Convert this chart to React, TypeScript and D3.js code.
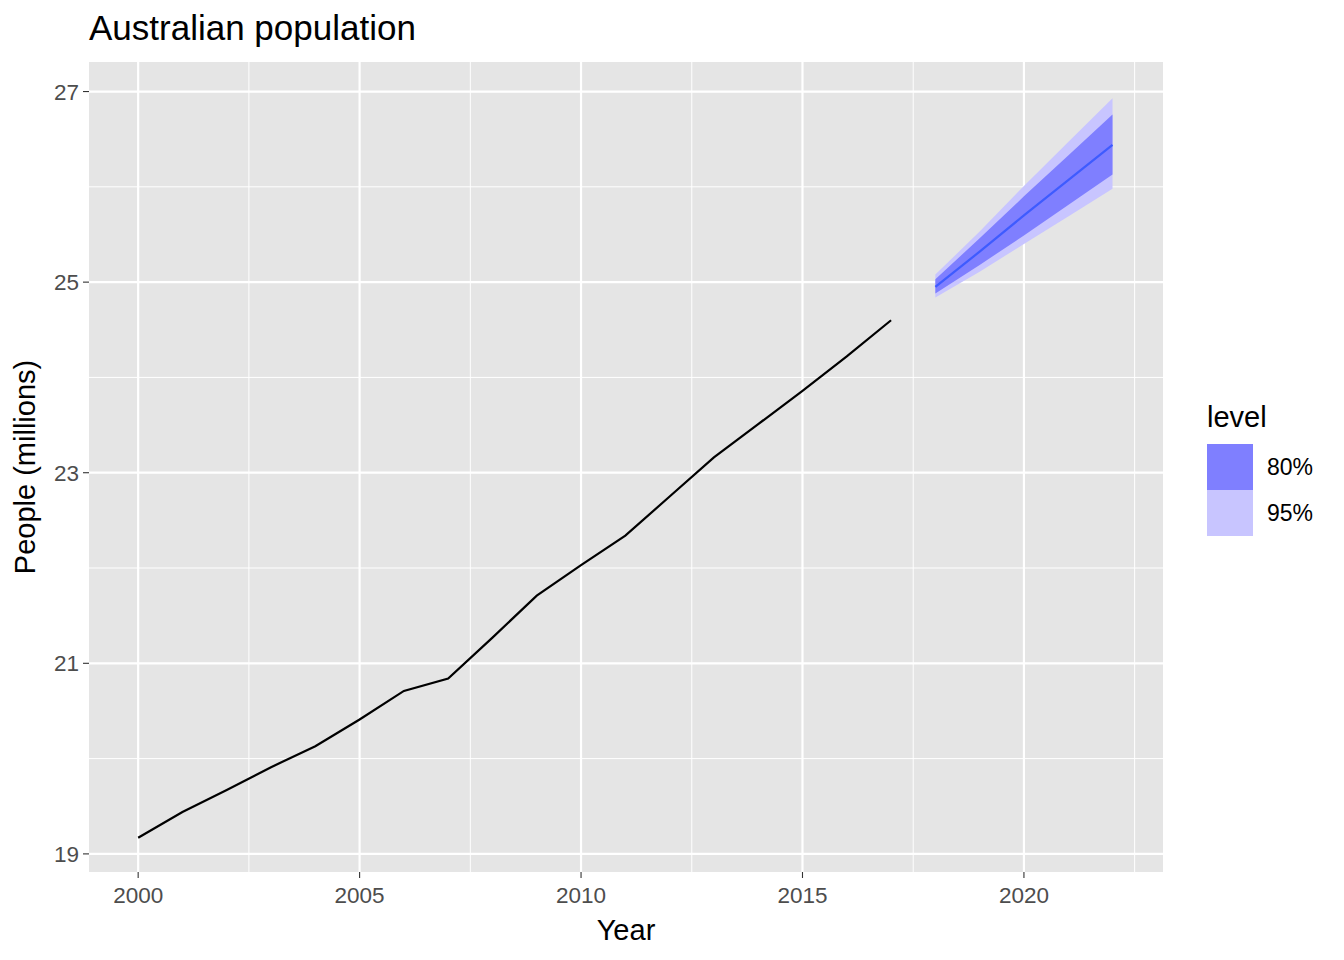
import * as React from 'react';
import * as d3 from 'd3';

const years = [2000, 2001, 2002, 2003, 2004, 2005, 2006, 2007, 2008, 2009, 2010, 2011, 2012, 2013, 2014, 2015, 2016, 2017];
const population = [19.17, 19.44, 19.67, 19.91, 20.13, 20.41, 20.71, 20.84, 21.27, 21.71, 22.03, 22.34, 22.75, 23.16, 23.51, 23.86, 24.22, 24.60];

const fcYears = [2018, 2019, 2020, 2021, 2022];
const fcMean = [24.95, 25.32, 25.70, 26.07, 26.44];
const lo80 = [24.88, 25.18, 25.49, 25.81, 26.13];
const hi80 = [25.03, 25.46, 25.90, 26.33, 26.76];
const lo95 = [24.84, 25.11, 25.40, 25.69, 25.98];
const hi95 = [25.08, 25.53, 26.01, 26.47, 26.93];

const xTicks = [2000, 2005, 2010, 2015, 2020];
const xMinor = [2002.5, 2007.5, 2012.5, 2017.5, 2022.5];
const yTicks = [19, 21, 23, 25, 27];
const yMinor = [20, 22, 24, 26];
const legendLevels = ['80%', '95%'];
const legendColors = ['#7f7fff', '#c8c5ff'];

const font = '"Liberation Sans", Arial, sans-serif';

export default function App() {
  const left = 89, right = 1163, top = 62, bottom = 872;
  const x = d3.scaleLinear().domain([1998.89, 2023.14]).range([left, right]);
  const y = d3.scaleLinear().domain([18.81, 27.31]).range([bottom, top]);

  const line = d3.line<number>().x((_, i) => x(years[i])).y(d => y(d));
  const fcLine = d3.line<number>().x((_, i) => x(fcYears[i])).y(d => y(d));
  const area = (lo: number[], hi: number[]) =>
    d3.area<number>().x((_, i) => x(fcYears[i])).y0((_, i) => y(lo[i])).y1(d => y(d))(hi) || '';

  return (
    <svg width={1344} height={960} style={{ position: 'absolute', left: 0, top: 0 }} fontFamily={font}>
      <rect width={1344} height={960} fill="white" />
      <rect x={left} y={top} width={right - left} height={bottom - top} fill="#e5e5e5" />
      {xMinor.map(v => <line key={'xm' + v} x1={x(v)} x2={x(v)} y1={top} y2={bottom} stroke="white" strokeWidth={1} />)}
      {yMinor.map(v => <line key={'ym' + v} y1={y(v)} y2={y(v)} x1={left} x2={right} stroke="white" strokeWidth={1} />)}
      {xTicks.map(v => <line key={'x' + v} x1={x(v)} x2={x(v)} y1={top} y2={bottom} stroke="white" strokeWidth={2.2} />)}
      {yTicks.map(v => <line key={'y' + v} y1={y(v)} y2={y(v)} x1={left} x2={right} stroke="white" strokeWidth={2.2} />)}
      <path d={area(lo95, hi95)} fill={legendColors[1]} />
      <path d={area(lo80, hi80)} fill={legendColors[0]} />
      <path d={fcLine(fcMean) || ''} fill="none" stroke="#3e5bff" strokeWidth={2.2} />
      <path d={line(population) || ''} fill="none" stroke="black" strokeWidth={2.2} />
      {xTicks.map(v => (
        <g key={'xt' + v}>
          <line x1={x(v)} x2={x(v)} y1={bottom} y2={bottom + 6} stroke="#333" strokeWidth={1.1} />
          <text x={x(v)} y={bottom + 31} textAnchor="middle" fontSize={22.5} fill="#4d4d4d">{v}</text>
        </g>
      ))}
      {yTicks.map(v => (
        <g key={'yt' + v}>
          <line x1={left - 6} x2={left} y1={y(v)} y2={y(v)} stroke="#333" strokeWidth={1.1} />
          <text x={left - 10} y={y(v) + 8} textAnchor="end" fontSize={22.5} fill="#4d4d4d">{v}</text>
        </g>
      ))}
      <text x={(left + right) / 2} y={940} textAnchor="middle" fontSize={29} fill="black">Year</text>
      <text transform={`translate(35,${(top + bottom) / 2}) rotate(-90)`} textAnchor="middle" fontSize={29} fill="black">People (millions)</text>
      <text x={89} y={40} fontSize={35} fill="black">Australian population</text>
      <text x={1207} y={427} fontSize={29} fill="black">level</text>
      {legendLevels.map((l, i) => (
        <g key={l}>
          <rect x={1207} y={444 + i * 46} width={46} height={46} fill={legendColors[i]} />
          <text x={1267} y={475 + i * 46} fontSize={23} fill="black">{l}</text>
        </g>
      ))}
    </svg>
  );
}
